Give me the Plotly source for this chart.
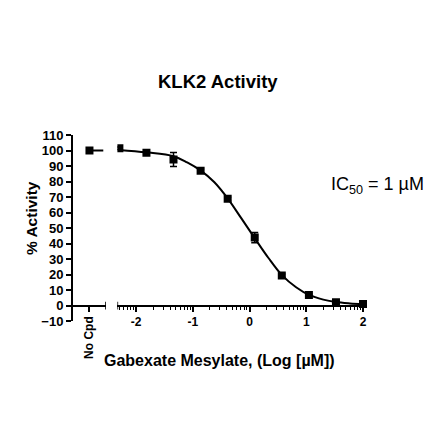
import numpy as np
import plotly.graph_objects as go

# datos
log_conc = [-2.295, -1.818, -1.341, -0.863, -0.386, 0.091, 0.568, 1.046, 1.523, 2.0]
actividad = [101.5, 98.6, 94.2, 86.9, 68.8, 43.8, 19.4, 6.7, 2.1, 0.9]
error = [0.8, 0.8, 4.5, 1.2, 1.0, 3.3, 1.0, 0.8, 0.8, 0.5]

sin_cpd = 100.0

curva_x = [-2.30, -1.82, -1.34, -1.10, -0.86, -0.62, -0.38, -0.15, 0.09,
           0.33, 0.57, 0.82, 1.05, 1.30, 1.52, 1.77, 2.0]
curva_y = [100.4, 98.8, 96.3, 92.3, 87.0, 79.5, 68.8, 56.5, 43.5,
           30.8, 19.6, 11.8, 6.8, 3.8, 2.2, 1.3, 0.8]

y_ticks = list(range(-10, 111, 10))
x_ticks = [-2, -1, 0, 1, 2]

fuente = "Arial, Liberation Sans, sans-serif"
rango_x2 = [-2.33, 2.07]

# ticks menores logaritmicos
menores = [np.log10(k) + d for d in range(-3, 3) for k in range(2, 10)]
menores = [m for m in menores if rango_x2[0] <= m <= rango_x2[1]]

fig = go.Figure()

fig.add_trace(go.Scatter(
    x=[0.5, 0.92], y=[sin_cpd, sin_cpd], mode="lines",
    line=dict(color="black", width=2), xaxis="x", yaxis="y",
    hoverinfo="skip"))
fig.add_trace(go.Scatter(
    x=[0.5], y=[sin_cpd], mode="markers",
    marker=dict(symbol="square", size=8, color="black"),
    xaxis="x", yaxis="y"))

fig.add_trace(go.Scatter(
    x=curva_x, y=curva_y, mode="lines", line_shape="spline",
    line=dict(color="black", width=2), xaxis="x2", yaxis="y"))
fig.add_trace(go.Scatter(
    x=log_conc, y=actividad, mode="markers",
    marker=dict(symbol="square", size=8, color="black"),
    error_y=dict(type="data", array=error, color="black", thickness=1.5, width=3.5),
    xaxis="x2", yaxis="y"))

eje = dict(showline=True, linecolor="black", linewidth=2, showgrid=False,
           zeroline=False, ticks="outside", tickcolor="black", tickwidth=1.5,
           ticklen=5, tickfont=dict(family=fuente, size=13, color="black", weight="bold"))

# la pagina deja 8 px de margen, asi que la figura mide 432
fig.update_layout(
    width=432, height=432, showlegend=False,
    plot_bgcolor="white", paper_bgcolor="white",
    margin=dict(l=65, r=73, t=127, b=119),
    xaxis=dict(eje, domain=[0, 0.112], range=[0, 1], anchor="free", position=10 / 120,
               tickmode="array", tickvals=[0.5], ticktext=["No Cpd"], tickangle=-90),
    xaxis2=dict(eje, domain=[0.151, 1], range=rango_x2, anchor="free", position=10 / 120,
                tickmode="array", tickvals=x_ticks, ticktext=[str(t) for t in x_ticks],
                minor=dict(tickmode="array", tickvals=menores, ticks="outside",
                           ticklen=3, tickwidth=1, tickcolor="black")),
    yaxis=dict(eje, range=[-10, 110], domain=[0, 1], anchor="x",
               tickmode="array", tickvals=y_ticks),
)
fig.update_xaxes(tickfont_size=12, selector=dict(anchor="free"))
fig.layout.xaxis.tickfont.size = 12

# remates de los segmentos del eje x
for xr, xv in [("x", 1.0), ("x2", rango_x2[0])]:
    fig.add_shape(type="line", xref=xr, yref="y", x0=xv, x1=xv, y0=-2.5, y1=2.5,
                  line=dict(color="black", width=1.5))

textos = [
    ("<b>KLK2 Activity</b>", 0.493, 1.285, 18.5, 0),
    ("<b>% Activity</b>", -0.139, 0.554, 15.5, -90),
    ("<b>Gabexate Mesylate, (Log [µM])</b>", 0.497, -0.215, 16, 0),
    ("IC<sub>50</sub> = 1 µM", 1.037, 0.731, 18, 0),
]
for txt, xp, yp, tam, ang in textos:
    fig.add_annotation(text=txt, x=xp, y=yp, xref="paper", yref="paper",
                       xanchor="center", yanchor="middle", textangle=ang,
                       showarrow=False, font=dict(family=fuente, size=tam, color="black"))

fig.write_html("out.html")
